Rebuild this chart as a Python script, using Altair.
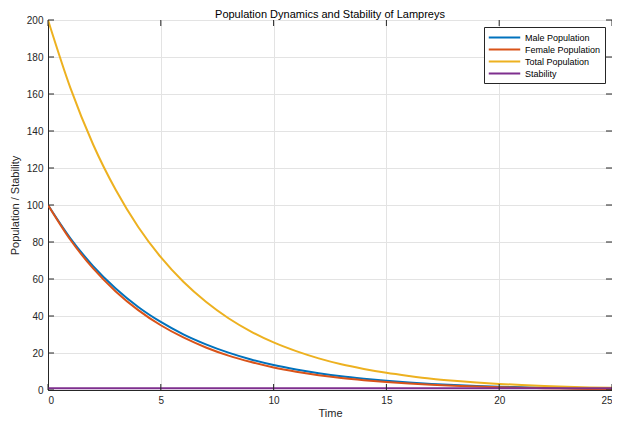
import altair as alt
import pandas as pd

time = list(range(0, 26))
male = [100, 81.9, 67.0, 54.9, 44.9, 36.8, 30.1, 24.7, 20.2, 16.5, 13.5, 11.1, 9.1,
        7.4, 6.1, 5.0, 4.1, 3.3, 2.7, 2.2, 1.8, 1.5, 1.2, 1.0, 0.8, 0.7]
female = [100, 81.1, 65.7, 53.3, 43.2, 35.0, 28.4, 23.0, 18.6, 15.1, 12.2, 9.9, 8.0,
          6.5, 5.3, 4.3, 3.5, 2.8, 2.3, 1.9, 1.5, 1.2, 1.0, 0.8, 0.6, 0.5]
total = [200, 163.0, 132.7, 108.2, 88.1, 71.8, 58.5, 47.7, 38.8, 31.6, 25.7, 21.0, 17.1,
         13.9, 11.4, 9.3, 7.6, 6.1, 5.0, 4.1, 3.3, 2.7, 2.2, 1.8, 1.4, 1.2]
stability = [1.0] * 26

series_names = ["Male Population", "Female Population", "Total Population", "Stability"]
series_colors = ["#0072BD", "#D95319", "#EDB120", "#7E2F8E"]
x_ticks = [0, 5, 10, 15, 20, 25]
y_ticks = [0, 20, 40, 60, 80, 100, 120, 140, 160, 180, 200]

rows = []
for name, vals in zip(series_names, [male, female, total, stability]):
    for t, v in zip(time, vals):
        rows.append({"Time": t, "Value": v, "Series": name})
df = pd.DataFrame(rows)

W, H = 564, 370
frame = "#262626"
FONT = "Liberation Sans"

xs = alt.Scale(domain=[0, 25], nice=False)
ys = alt.Scale(domain=[0, 200], nice=False)

axis_common = dict(grid=True, gridColor="#E3E3E3", ticks=False, domainColor=frame,
                   labelColor=frame, labelFontSize=10, labelOverlap=False,
                   titleFontSize=11, titleFontWeight="normal", titleColor=frame,
                   labelFont=FONT, titleFont=FONT)
x_axis = alt.Axis(values=x_ticks, labelPadding=5, titlePadding=2, **axis_common)
y_axis = alt.Axis(values=y_ticks, labelPadding=5, titlePadding=6, **axis_common)

lines = alt.Chart(df).mark_line(strokeWidth=2, interpolate="monotone", clip=True).encode(
    x=alt.X("Time:Q", scale=xs, title="Time", axis=x_axis),
    y=alt.Y("Value:Q", scale=ys, title="Population / Stability", axis=y_axis),
    color=alt.Color("Series:N", sort=series_names,
                    scale=alt.Scale(domain=series_names, range=series_colors),
                    legend=alt.Legend(title=None, orient="top-right", offset=7,
                                      symbolType="M-3,0H3", symbolSize=110,
                                      symbolStrokeWidth=2, symbolOffset=10,
                                      labelFontSize=9, labelFont=FONT,
                                      labelColor="#000000", strokeColor=frame,
                                      fillColor="white", padding=4,
                                      rowPadding=0, labelOffset=14)),
)

xt = pd.DataFrame({"Time": x_ticks})
yt = pd.DataFrame({"Value": y_ticks})
tl = 6
ticks_bottom = alt.Chart(xt).mark_rule(color=frame).encode(
    x=alt.X("Time:Q", scale=xs, title="Time", axis=x_axis), y=alt.value(H), y2=alt.value(H - tl))
ticks_top = alt.Chart(xt).mark_rule(color=frame).encode(
    x=alt.X("Time:Q", scale=xs, title="Time", axis=x_axis), y=alt.value(0), y2=alt.value(tl))
ticks_left = alt.Chart(yt).mark_rule(color=frame).encode(
    y=alt.Y("Value:Q", scale=ys, title="Population / Stability", axis=y_axis),
    x=alt.value(0), x2=alt.value(tl))
ticks_right = alt.Chart(yt).mark_rule(color=frame).encode(
    y=alt.Y("Value:Q", scale=ys, title="Population / Stability", axis=y_axis),
    x=alt.value(W), x2=alt.value(W - tl))

chart = alt.layer(lines, ticks_bottom, ticks_top, ticks_left, ticks_right).properties(
    width=W, height=H,
    title=alt.TitleParams("Population Dynamics and Stability of Lampreys", fontSize=11,
                          fontWeight="normal", font=FONT, color="#000000",
                          offset=-5),
    autosize=alt.AutoSizeParams(type="none"),
    padding={"left": 40, "top": 12, "right": 0, "bottom": 31},
).configure_view(stroke=frame, strokeWidth=1)

chart.save("out.html", embed_options={"renderer": "svg", "actions": False})
